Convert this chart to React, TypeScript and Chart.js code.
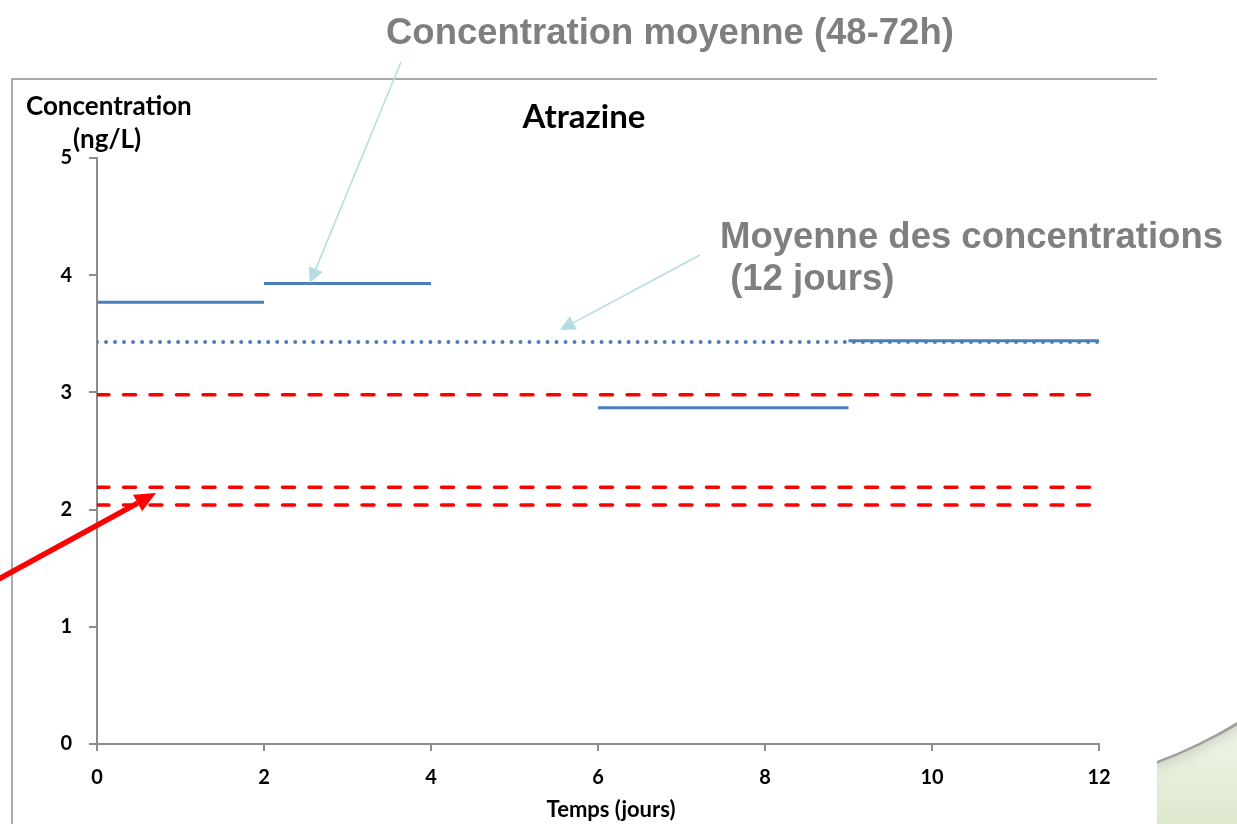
import React, { useEffect, useRef } from "react";
import { Chart, registerables } from "chart.js";

Chart.register(...registerables);

// ---- Data ----
const segStarts = [0, 2, 6, 9];
const segEnds = [2, 4, 9, 12];
const segValues = [3.77, 3.93, 2.87, 3.44];
const meanRange = [0, 12];
const meanValue = 3.43;
const thresholdValues = [2.98, 2.19, 2.04];
const xTicks = [0, 2, 4, 6, 8, 10, 12];
const yTicks = [0, 1, 2, 3, 4, 5];

const TITLE = "Atrazine";
const Y_TITLE = ["Concentration", "(ng/L)"];
const X_TITLE = "Temps (jours)";
const NOTE_TOP = "Concentration moyenne (48-72h)";
const NOTE_MEAN = ["Moyenne des concentrations", " (12 jours)"];

const BLUE = "#4a7ebb";
const RED = "#ff0000";
const AXIS = "#8c8c8c";
const NOTE = "#7f7f7f";
const ARROW = "#b3dde0";
const FONT = "Lato, 'Open Sans', sans-serif";
const NOTE_FONT = "'Liberation Sans', Arial, sans-serif";

function arrow(ctx: CanvasRenderingContext2D, x1: number, y1: number, x2: number, y2: number, color: string, w: number, head: number, hwRatio: number) {
  const a = Math.atan2(y2 - y1, x2 - x1);
  const bx = x2 - head * Math.cos(a);
  const by = y2 - head * Math.sin(a);
  ctx.save();
  ctx.strokeStyle = color;
  ctx.fillStyle = color;
  ctx.lineWidth = w;
  ctx.beginPath();
  ctx.moveTo(x1, y1);
  ctx.lineTo(bx, by);
  ctx.stroke();
  const hw = head * hwRatio;
  ctx.beginPath();
  ctx.moveTo(x2, y2);
  ctx.lineTo(bx + hw * Math.sin(a), by - hw * Math.cos(a));
  ctx.lineTo(bx - hw * Math.sin(a), by + hw * Math.cos(a));
  ctx.closePath();
  ctx.fill();
  ctx.restore();
}

const decor = {
  id: "decor",
  beforeDraw(chart: any) {
    const ctx = chart.ctx as CanvasRenderingContext2D;
    const W = chart.width, H = chart.height;
    ctx.save();
    ctx.fillStyle = "#ffffff";
    ctx.fillRect(0, 0, W, H);
    // bottom-right swoosh
    ctx.save();
    ctx.beginPath();
    ctx.moveTo(1157, 761);
    ctx.quadraticCurveTo(1200, 745, 1237, 722);
    ctx.lineTo(1237, 824);
    ctx.lineTo(1157, 824);
    ctx.closePath();
    ctx.clip();
    const g = ctx.createLinearGradient(0, 730, 0, 824);
    g.addColorStop(0, "#eef3e6");
    g.addColorStop(1, "#dde9cd");
    ctx.fillStyle = g;
    ctx.fillRect(1150, 700, 90, 130);
    ctx.strokeStyle = "rgba(120,120,120,0.6)";
    ctx.lineWidth = 8;
    ctx.shadowColor = "rgba(120,120,120,0.8)";
    ctx.shadowBlur = 14;
    ctx.beginPath();
    ctx.moveTo(1150, 762);
    ctx.quadraticCurveTo(1200, 743, 1240, 719);
    ctx.stroke();
    ctx.restore();
    // frame
    ctx.strokeStyle = "#8f8f8f";
    ctx.lineWidth = 1.5;
    ctx.beginPath();
    ctx.moveTo(12, 824);
    ctx.lineTo(12, 79);
    ctx.lineTo(1157, 79);
    ctx.stroke();
    ctx.restore();
  },
  afterDraw(chart: any) {
    const ctx = chart.ctx as CanvasRenderingContext2D;
    ctx.save();
    ctx.fillStyle = "#000";
    ctx.textBaseline = "alphabetic";
    ctx.textAlign = "left";
    ctx.font = `bold 26px ${FONT}`;
    ctx.fillText(Y_TITLE[0], 26, 115);
    ctx.fillText(Y_TITLE[1], 73, 148);
    ctx.textAlign = "center";
    ctx.font = `bold 33px ${FONT}`;
    ctx.fillText(TITLE, 584, 128);
    ctx.font = `bold 22px ${FONT}`;
    ctx.fillText(X_TITLE, 611, 817);

    ctx.fillStyle = NOTE;
    ctx.textAlign = "left";
    ctx.font = `bold 36.5px ${NOTE_FONT}`;
    ctx.fillText(NOTE_TOP, 386, 44);
    ctx.fillText(NOTE_MEAN[0], 720, 248);
    ctx.fillText(NOTE_MEAN[1], 720, 290);

    arrow(ctx, 401, 62, 310, 283, ARROW, 1.5, 15, 0.5);
    arrow(ctx, 700, 255, 560, 330, ARROW, 1.5, 15, 0.5);
    arrow(ctx, -5, 581, 156, 493, RED, 5.5, 21, 0.45);
    ctx.restore();
  },
};

function lineDs(x0: number, x1: number, y: number, color: string, width: number, dash: number[], cap: CanvasLineCap) {
  return {
    type: "line" as const,
    data: [{ x: x0, y }, { x: x1, y }],
    borderColor: color,
    borderWidth: width,
    borderDash: dash,
    borderCapStyle: cap,
    pointRadius: 0,
    fill: false,
    tension: 0,
  };
}

export default function App() {
  const ref = useRef<HTMLCanvasElement>(null);
  useEffect(() => {
    if (!ref.current) return;
    const datasets: any[] = [];
    thresholdValues.forEach((v) => datasets.push(lineDs(0, 12, v, RED, 3.5, [12, 14.5], "round")));
    datasets.push(lineDs(meanRange[0], meanRange[1], meanValue, BLUE, 4, [0.01, 9], "round"));
    segValues.forEach((v, i) => datasets.push(lineDs(segStarts[i], segEnds[i], v, BLUE, 3, [], "butt")));

    const chart = new Chart(ref.current, {
      type: "line",
      data: { datasets },
      options: {
        animation: false,
        responsive: false,
        devicePixelRatio: 1,
        layout: { padding: { left: 0, right: 138, top: 158, bottom: 0 } },
        plugins: { legend: { display: false }, tooltip: { enabled: false }, title: { display: false } },
        scales: {
          x: {
            type: "linear",
            min: 0,
            max: 12,
            afterFit: (s: any) => { s.height = 80; },
            afterBuildTicks: (s: any) => { s.ticks = xTicks.map((v) => ({ value: v })); },
            ticks: { color: "#000", font: { family: FONT, size: 20, weight: "bold" }, padding: 15 },
            grid: { drawOnChartArea: false, drawTicks: true, tickLength: 7, color: AXIS, lineWidth: 2 },
            border: { display: true, color: AXIS, width: 2 },
          },
          y: {
            type: "linear",
            min: 0,
            max: 5,
            afterFit: (s: any) => { s.width = 97; },
            afterBuildTicks: (s: any) => { s.ticks = yTicks.map((v) => ({ value: v })); },
            ticks: { color: "#000", font: { family: FONT, size: 20, weight: "bold" }, padding: 17 },
            grid: { drawOnChartArea: false, drawTicks: true, tickLength: 8, color: AXIS, lineWidth: 2 },
            border: { display: true, color: AXIS, width: 2 },
          },
        },
      },
      plugins: [decor],
    } as any);
    return () => chart.destroy();
  }, []);
  return (
    <div style={{ position: "fixed", left: 0, top: 0, width: 1237, height: 824, background: "#fff" }}>
      <canvas ref={ref} width={1237} height={824} style={{ display: "block", width: 1237, height: 824 }} />
    </div>
  );
}
